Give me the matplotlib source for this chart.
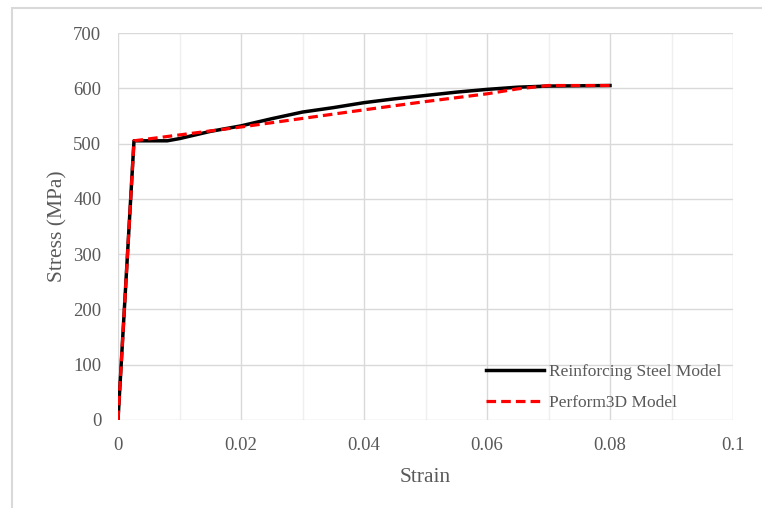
import matplotlib
matplotlib.use("Agg")
import matplotlib.pyplot as plt
from matplotlib.patches import Rectangle

# Data
steel_strain = [0.0, 0.0026, 0.008, 0.010, 0.015, 0.020, 0.025, 0.030, 0.035, 0.040, 0.045, 0.050, 0.055, 0.060, 0.065, 0.070, 0.080]
steel_stress = [0, 505, 505, 509, 522, 532, 545, 557, 565, 574, 581, 587, 593, 598, 602, 604, 605]
p3d_strain = [0.0, 0.0026, 0.020, 0.040, 0.050, 0.060, 0.065, 0.070, 0.080]
p3d_stress = [0, 505, 530, 561, 576, 590, 599, 605, 605]
series_labels = ["Reinforcing Steel Model", "Perform3D Model"]
x_ticks = [0, 0.02, 0.04, 0.06, 0.08, 0.1]
x_tick_labels = ["0", "0.02", "0.04", "0.06", "0.08", "0.1"]
y_ticks = [0, 100, 200, 300, 400, 500, 600, 700]

plt.rcParams['font.family'] = ['Liberation Serif', 'DejaVu Serif']
txt = '#595959'

fig = plt.figure(figsize=(7.62, 5.08), dpi=100)
W, H = 762, 508
ax = fig.add_axes([118 / W, 1 - 420 / H, (733 - 118) / W, (420 - 33) / H])

ax.plot(steel_strain, steel_stress, color='black', lw=2.5, label=series_labels[0], zorder=3)
ax.plot(p3d_strain, p3d_stress, color='#ff0000', lw=2.3, ls=(0, (3, 1.6)), label=series_labels[1], zorder=4)

ax.set_xlim(0, 0.1)
ax.set_ylim(0, 700)
ax.set_xticks(x_ticks)
ax.set_xticklabels(x_tick_labels)
ax.set_xticks([0.01, 0.03, 0.05, 0.07, 0.09], minor=True)
ax.set_yticks(y_ticks)
ax.grid(which='major', color='#d9d9d9', lw=1.0, zorder=0)
ax.grid(which='minor', axis='x', color='#efefef', lw=1.0, zorder=0)
for s in ax.spines.values():
    s.set_visible(False)
ax.tick_params(which='both', length=0)
ax.tick_params(axis='x', pad=12, labelsize=13.5, labelcolor=txt)
ax.tick_params(axis='y', pad=12, labelsize=13.5, labelcolor=txt)
ax.set_axisbelow(True)

ax.set_xlabel("Strain", fontsize=15.5, color=txt, labelpad=10)
ax.set_ylabel("Stress (MPa)", fontsize=15.5, color=txt, labelpad=4)

leg = ax.legend(loc='lower right', bbox_to_anchor=(0.995, 0.0), frameon=False,
                fontsize=12.5, handlelength=3.3, handletextpad=0.3,
                labelspacing=0.85, borderaxespad=0.1)
for t in leg.get_texts():
    t.set_color(txt)

fig.patches.append(Rectangle((12 / W, -0.1), 1.2, 1 - 8 / H + 0.1, transform=fig.transFigure,
                             fill=False, edgecolor='#d9d9d9', lw=1.5))

fig.savefig("out.png", dpi=100)
